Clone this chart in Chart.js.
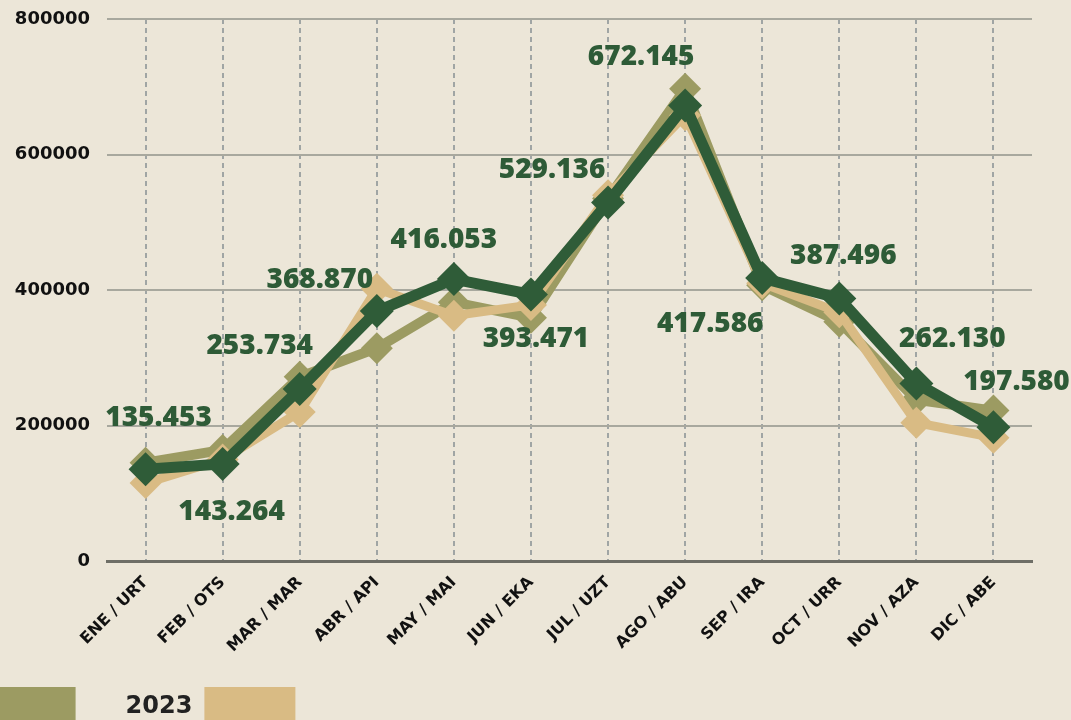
<!DOCTYPE html>
<html>
<head>
<meta charset="utf-8">
<script src="https://cdn.jsdelivr.net/npm/chart.js@4/dist/chart.umd.min.js"></script>
<style>
  html, body { margin: 0; padding: 0; width: 1071px; height: 720px; overflow: hidden; background: #ece6d8; }
  #wrap { position: absolute; top: 0; left: -364px; width: 1435px; height: 757px; }
</style>
</head>
<body>
<div id="wrap"><canvas id="c" width="1435" height="757"></canvas></div>
<script>
// ---- data ----
const categories = ['ENE / URT','FEB / OTS','MAR / MAR','ABR / API','MAY / MAI','JUN / EKA','JUL / UZT','AGO / ABU','SEP / IRA','OCT / URR','NOV / AZA','DIC / ABE'];
const seriesNames = ['2023', '2022', '2024'];
const values2023 = [115000, 150000, 220000, 402000, 362000, 378000, 540000, 658000, 410000, 367000, 204000, 182000];
const values2022 = [145000, 164000, 272000, 314000, 382000, 359000, 535000, 697000, 407000, 353000, 238000, 222000];
const values2024 = [135453, 143264, 253734, 368870, 416053, 393471, 529136, 672145, 417586, 387496, 262130, 197580];
const yTicks = [0, 200000, 400000, 600000, 800000];

// ---- style ----
const DARK = '#2f5c38', OLIVE = '#9c9b62', TAN = '#d9bb84';
const labelDx = [13, 9, -40, -57, -10, 5, -56, -44, -52, 4, 36, 23];
const labelDy = [-51, 48, -43, -31, -39, 45, -32, -49, 46, -42, -44, -45];
const SHIFT = 364;

function fmt(v) { return String(v).replace(/\B(?=(\d{3})+(?!\d))/g, '.'); }

const valueLabels = {
  id: 'valueLabels',
  afterDatasetsDraw(chart) {
    const meta = chart.getDatasetMeta(2);
    const ctx = chart.ctx;
    ctx.save();
    ctx.font = '800 28px "Open Sans"';
    ctx.fillStyle = '#2e5b37';
    ctx.textAlign = 'center';
    ctx.textBaseline = 'middle';
    meta.data.forEach((pt, i) => {
      ctx.fillText(fmt(values2024[i]), pt.x + labelDx[i], pt.y + labelDy[i]);
    });
    ctx.restore();
  }
};

// raise the legend so it sits closer to the rotated axis labels
const legendLift = {
  id: 'legendLift',
  afterLayout(chart) {
    if (chart.legend) { chart.legend.top -= 20; chart.legend.bottom -= 20; }
  }
};

const legendRank = [0, 1, 2];

new Chart(document.getElementById('c'), {
  type: 'line',
  data: {
    labels: categories,
    datasets: [
      { label: seriesNames[0], data: values2023, borderColor: TAN, backgroundColor: TAN, borderWidth: 9,
        pointStyle: 'rectRot', pointRadius: 16, pointBorderWidth: 0, pointBackgroundColor: TAN, order: 1 },
      { label: seriesNames[1], data: values2022, borderColor: OLIVE, backgroundColor: OLIVE, borderWidth: 10,
        pointStyle: 'rectRot', pointRadius: 16, pointBorderWidth: 0, pointBackgroundColor: OLIVE, order: 2 },
      { label: seriesNames[2], data: values2024, borderColor: DARK, backgroundColor: DARK, borderWidth: 11,
        pointStyle: 'rectRot', pointRadius: 17, pointBorderWidth: 0, pointBackgroundColor: DARK, order: 0 }
    ]
  },
  options: {
    responsive: false,
    animation: false,
    tension: 0,
    layout: { padding: { left: 0, right: 39, top: 19, bottom: 0 } },
    scales: {
      x: {
        offset: true,
        grid: { display: true, color: '#a0a5a4', lineWidth: 2, drawTicks: false, offset: false },
        border: { display: true, color: '#6e6e66', width: 3, dash: [5, 4] },
        ticks: { color: '#111', font: { family: 'DejaVu Sans', weight: 'bold', size: 16 }, minRotation: 45, maxRotation: 45, padding: 12, autoSkip: false },
        afterFit(scale) { scale.height = 96; }
      },
      y: {
        min: 0, max: 800000,
        afterBuildTicks(scale) { scale.ticks = yTicks.map(v => ({ value: v })); },
        grid: { color: '#a8a89e', lineWidth: 2, drawTicks: false },
        border: { display: false },
        ticks: { color: '#111', font: { family: 'DejaVu Sans', weight: 'bold', size: 18 }, padding: 17, callback: v => String(v) },
        afterFit(scale) { scale.width = SHIFT + 107; scale.paddingTop = 10; scale.paddingBottom = 10; }
      }
    },
    plugins: {
      tooltip: { enabled: false },
      legend: {
        position: 'bottom',
        align: 'end',
        rtl: true,
        labels: {
          color: '#222',
          font: { family: 'DejaVu Sans', weight: 'bold', size: 24 },
          boxWidth: 91,
          boxHeight: 40,
          padding: 50,
          sort: (a, b) => legendRank[a.datasetIndex] - legendRank[b.datasetIndex],
          generateLabels: (chart) => Chart.defaults.plugins.legend.labels.generateLabels(chart).map(l => Object.assign(l, { lineWidth: 0 }))
        }
      }
    }
  },
  plugins: [valueLabels, legendLift]
});
</script>
</body>
</html>
